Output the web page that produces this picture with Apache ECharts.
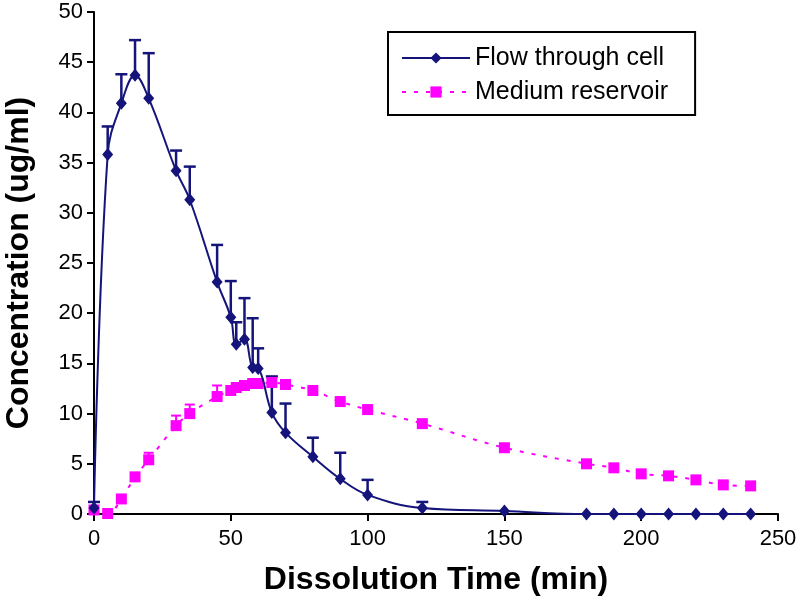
<!DOCTYPE html>
<html><head><meta charset="utf-8">
<script src="https://cdn.jsdelivr.net/npm/echarts@6/dist/echarts.min.js"></script>
<style>html,body{margin:0;padding:0;background:#fff}#c{width:799px;height:612px}</style>
</head><body><div id="c"></div>
<script>
const times = [0,5,10,15,20,30,35,45,50,52,55,58,60,65,70,80,90,100,120,150,180,190,200,210,220,230,240];
const flowCell = [0.6,35.8,40.9,43.7,41.4,34.2,31.3,23.1,19.6,16.9,17.4,14.6,14.5,10.1,8.1,5.7,3.5,1.9,0.6,0.3,0,0,0,0,0,0,0];
const flowCellUpper = [1.2,38.6,43.8,47.2,45.9,36.2,34.6,26.8,23.2,19.1,21.5,19.5,16.5,13.7,11.0,7.6,6.1,3.4,1.2,null,null,null,null,null,null,null,null];
const reservoir = [0.4,0.05,1.5,3.7,5.4,8.8,10.0,11.7,12.3,12.6,12.8,13.0,13.0,13.1,12.9,12.3,11.2,10.4,9.0,6.6,5.0,4.6,4.0,3.8,3.4,2.9,2.8];
const reservoirUpper = [null,null,null,null,6.1,9.8,10.9,12.8,null,null,null,null,null,13.5,null,12.7,null,10.7,null,6.9,null,null,null,4.1,null,3.2,null];
const xTicks = [0,50,100,150,200,250];
const yTicks = [0,5,10,15,20,25,30,35,40,45,50];

const BLUE = '#14147a', PINK = '#ff00ff';
const FONT = '"Liberation Sans", Arial, sans-serif';

function pairs(vals){ return times.map((t,i)=>[t,vals[i]]); }
function errData(vals, ups){ const d=[]; times.forEach((t,i)=>{ if(ups[i]!=null) d.push([t,vals[i],ups[i]]); }); return d; }
function errRender(color, lw, cap){
  return function(params, api){
    const p1 = api.coord([api.value(0), api.value(1)]);
    const p2 = api.coord([api.value(0), api.value(2)]);
    const st = {stroke: color, lineWidth: lw};
    return {type:'group', children:[
      {type:'line', shape:{x1:p1[0],y1:p1[1],x2:p2[0],y2:p2[1]}, style:st},
      {type:'line', shape:{x1:p2[0]-cap,y1:p2[1],x2:p2[0]+cap,y2:p2[1]}, style:st}
    ]};
  };
}

const chart = echarts.init(document.getElementById('c'), null, {renderer:'canvas'});
chart.setOption({
  animation:false,
  backgroundColor:'#fff',
  textStyle:{fontFamily:FONT},
  grid:{left:94, right:21, top:12, bottom:98, containLabel:false, outerBoundsMode:'none'},
  legend:{
    orient:'vertical', left:388, top:32,
    padding:[12,27,9,13],
    borderColor:'#000', borderWidth:2,
    itemWidth:68, itemHeight:14, itemGap:6,
    textStyle:{fontSize:25, color:'#000', fontFamily:FONT, lineHeight:28},
    data:['Flow through cell','Medium reservoir']
  },
  xAxis:{
    type:'value', min:xTicks[0], max:xTicks[xTicks.length-1], interval:50,
    name:'Dissolution Time (min)', nameLocation:'middle', nameGap:50,
    nameTextStyle:{fontSize:32, fontWeight:'bold', color:'#000', fontFamily:FONT},
    axisLine:{lineStyle:{color:'#000', width:2}},
    axisTick:{inside:false, length:7, lineStyle:{color:'#000', width:2}},
    axisLabel:{fontSize:22, color:'#000', margin:14, fontFamily:FONT},
    splitLine:{show:false}
  },
  yAxis:{
    type:'value', min:yTicks[0], max:yTicks[yTicks.length-1], interval:5,
    name:'Concentration (ug/ml)', nameLocation:'middle', nameGap:59,
    nameTextStyle:{fontSize:32, fontWeight:'bold', color:'#000', fontFamily:FONT},
    axisLine:{show:true, lineStyle:{color:'#000', width:2}},
    axisTick:{show:true, inside:false, length:7, lineStyle:{color:'#000', width:2}},
    axisLabel:{fontSize:22, color:'#000', margin:11, fontFamily:FONT},
    splitLine:{show:false}
  },
  series:[
    {type:'custom', name:'errFlow', data:errData(flowCell, flowCellUpper), renderItem:errRender(BLUE,2.5,6), z:3, silent:true},
    {type:'custom', name:'errRes', data:errData(reservoir, reservoirUpper), renderItem:errRender(PINK,2,5), z:3, silent:true},
    {type:'line', name:'Medium reservoir', data:pairs(reservoir), smooth:0.4,
     symbol:'rect', symbolSize:11, showAllSymbol:true,
     itemStyle:{color:PINK}, lineStyle:{color:PINK, width:2, type:[4,8]}, z:4},
    {type:'line', name:'Flow through cell', data:pairs(flowCell), smooth:0.4,
     symbol:'diamond', symbolSize:[11,13], showAllSymbol:true,
     itemStyle:{color:BLUE}, lineStyle:{color:BLUE, width:2}, z:5}
  ]
});
</script></body></html>
